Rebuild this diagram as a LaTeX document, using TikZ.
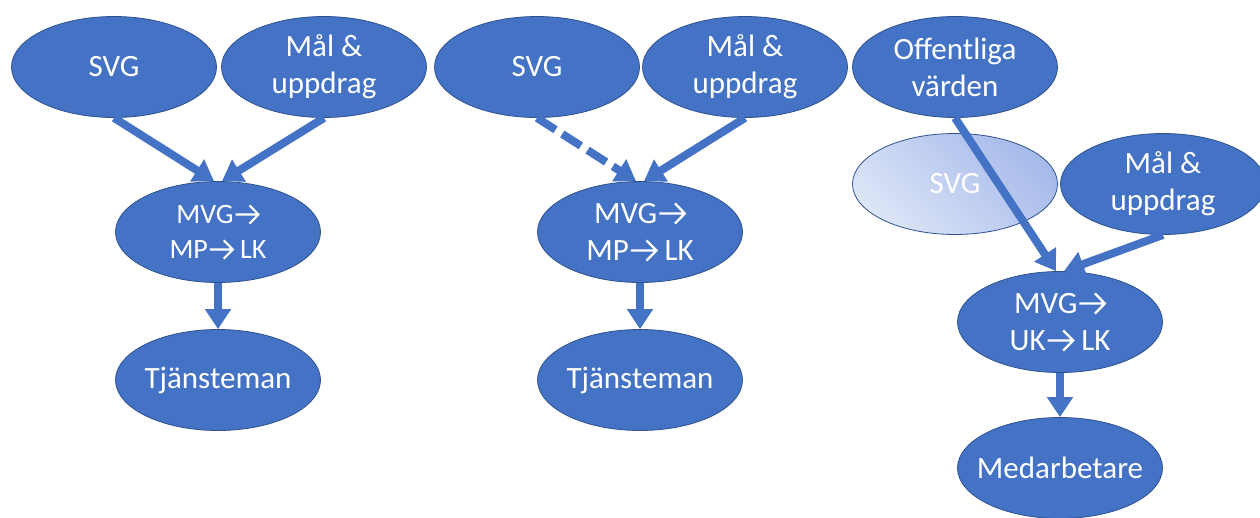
\documentclass[tikz,border=0pt]{standalone}
\usepackage{fontspec}
\setmainfont{Carlito}
\usetikzlibrary{arrows.meta,shapes.geometric}
\definecolor{fillblue}{HTML}{4472C4}
\definecolor{edgeblue}{HTML}{2F528F}
\definecolor{fadelight}{HTML}{DCE4F7}
\definecolor{fadedark}{HTML}{A6BAEA}
\newcommand{\ra}{\hspace{0.03em}\tikz[baseline=0pt,x=1em,y=1em]\draw[white,line width=0.075em,line join=miter]
  (0,0.33)--(0.8,0.33) (0.5,0.655)--(0.82,0.33)--(0.5,0.005);}
\begin{document}
\begin{tikzpicture}[x=1pt,y=-1pt,
  oval/.style={ellipse, draw=edgeblue, line width=0.8pt, fill=fillblue,
    minimum width=205pt, minimum height=101pt, inner sep=0pt},
  faded/.style={ellipse, draw=edgeblue, line width=0.8pt,
    top color=fadedark, bottom color=fadelight, shading angle=-45,
    minimum width=205pt, minimum height=101pt, inner sep=0pt},
  lab/.style={text=white, align=center, inner sep=0pt,
    font=\fontsize{31}{37}\selectfont},
  labsmall/.style={text=white, align=center, inner sep=0pt,
    font=\fontsize{28}{35}\selectfont},
  arr/.style={draw=fillblue, line width=8pt,
    -{Triangle[width=25pt,length=20pt]}},
  darr/.style={arr, dash pattern=on 22pt off 8pt}
]
\useasboundingbox (0,0) rectangle (1260,517);

% left group
\node[oval, label={[lab]center:SVG}] (svg1) at (114,67) {};
\node[oval, label={[lab]center:Mål \&\\uppdrag}] (mal1) at (324,67) {};
\node[oval, label={[labsmall]center:MVG\ra\\MP\ra\ LK}] (mvg1) at (218,232) {};
\node[oval, label={[lab]center:Tjänsteman}] (tj1) at (218,380) {};

% middle group
\node[oval, label={[lab]center:SVG}] (svg2) at (537,67) {};
\node[oval, label={[lab]center:Mål \&\\uppdrag}] (mal2) at (745,67) {};
\node[oval, label={[lab]center:MVG\ra\\MP\ra\ LK}] (mvg2) at (640,232) {};
\node[oval, label={[lab]center:Tjänsteman}] (tj2) at (640,380) {};

% right group
\node[oval, label={[lab]center:Offentliga\\värden}] (off) at (955,67) {};
\node[faded, label={[lab]center:SVG}] (svg3) at (955,184) {};
\node[oval, label={[lab]center:Mål \&\\uppdrag}] (mal3) at (1163,184) {};
\node[oval, label={[lab]center:MVG\ra\\UK\ra\ LK}] (mvg3) at (1060,322) {};
\node[oval, label={[lab]center:Medarbetare}] (med) at (1060,468) {};

% connectors
\draw[arr] (svg1.south) -- ([xshift=-4pt]mvg1.north);
\draw[arr] (mal1.south) -- ([xshift=4pt]mvg1.north);
\draw[arr] (mvg1.south) -- (tj1.north);

\draw[darr] (svg2.south) -- ([xshift=-4pt]mvg2.north);
\draw[arr] (mal2.south) -- ([xshift=4pt]mvg2.north);
\draw[arr] (mvg2.south) -- (tj2.north);

\draw[arr] (off.south) -- ([xshift=-4pt]mvg3.north);
\draw[arr] (mal3.south) -- ([xshift=4pt]mvg3.north);
\draw[arr] (mvg3.south) -- (med.north);
\end{tikzpicture}
\end{document}
